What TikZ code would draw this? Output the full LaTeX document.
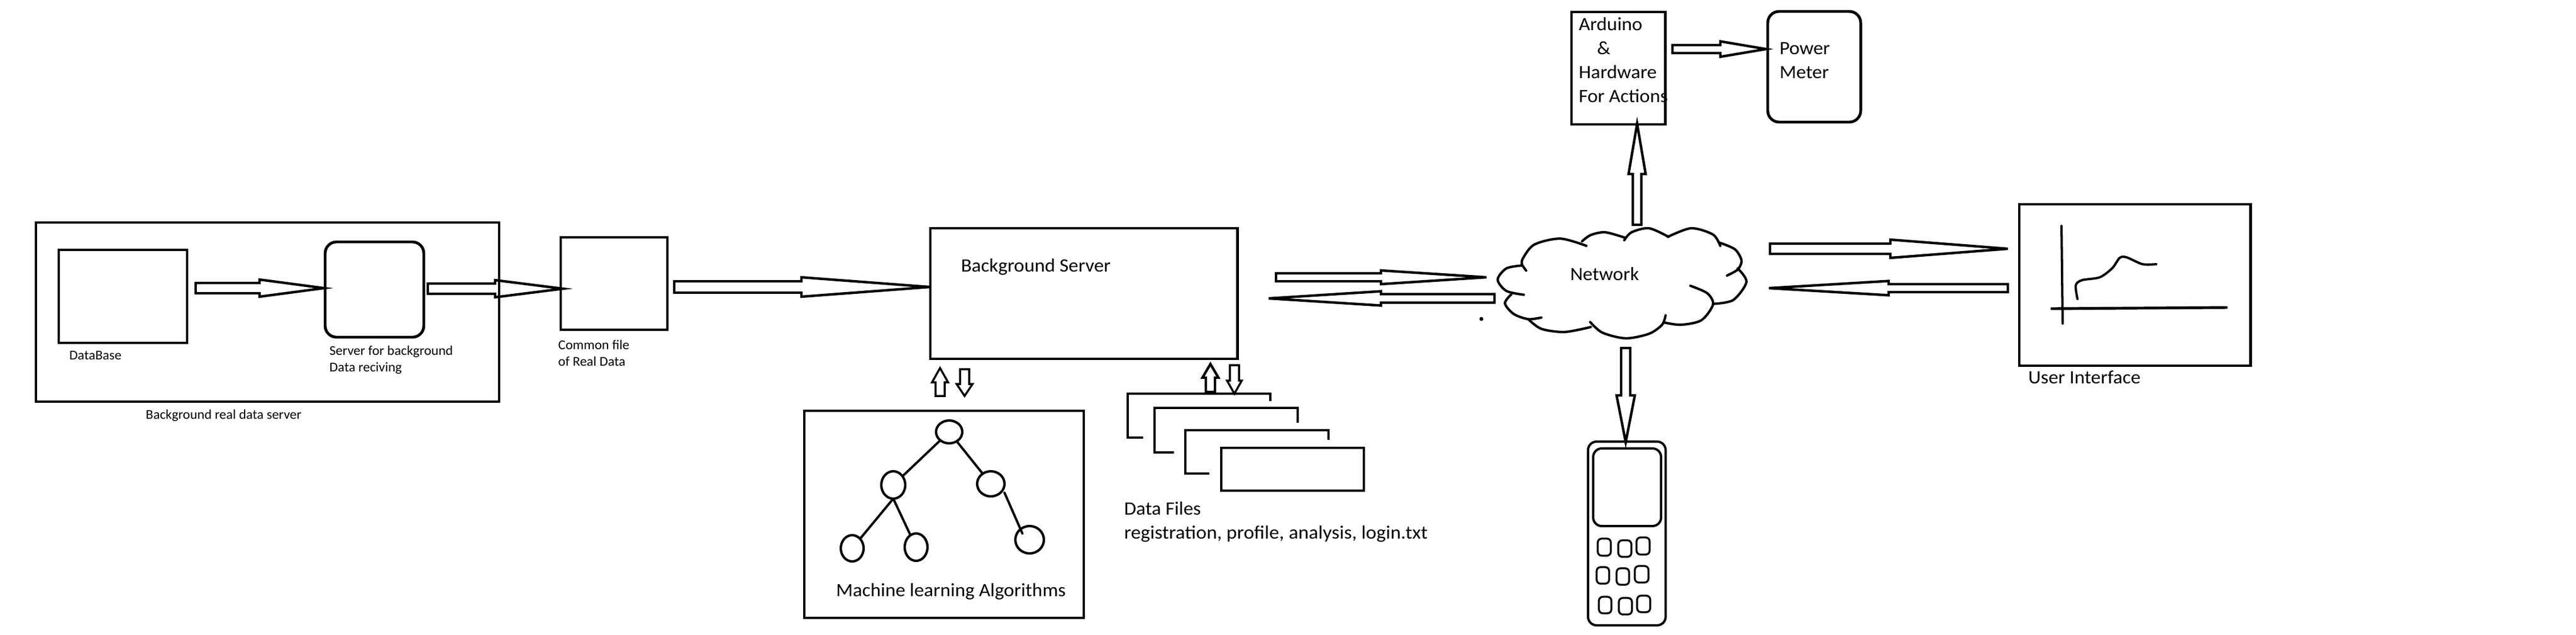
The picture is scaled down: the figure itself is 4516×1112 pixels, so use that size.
\documentclass[tikz,border=0pt]{standalone}
\usepackage{fontspec}
\setmainfont{Carlito}
\usetikzlibrary{shapes.geometric}
\tikzset{
 boxn/.style={draw,line width=1.4pt,rectangle,inner sep=0pt,outer sep=0pt},
 roundn/.style={boxn,rounded corners=2mm},
 keyn/.style={draw,line width=.95pt,rectangle,rounded corners=.7mm,inner sep=0pt,outer sep=0pt},
 phonen/.style={draw,line width=1.15pt,rectangle,rounded corners=1.5mm,inner sep=0pt,outer sep=0pt},
 treen/.style={draw,line width=1.2pt,ellipse,inner sep=0pt,outer sep=0pt},
 blockarrow/.style={draw,line width=1.25pt,line join=miter},
 thinarrow/.style={draw,line width=1pt,line join=miter},
 filepage/.style={draw,line width=1.25pt,line join=miter},
 sketchline/.style={draw,line width=1.15pt,line cap=round},
 bigtxt/.style={anchor=base west,inner sep=0pt,transform shape,xscale=1.04,font=\fontsize{9.4}{11}\selectfont},
 smalltxt/.style={anchor=base west,inner sep=0pt,transform shape,xscale=1.02,font=\fontsize{6.7}{8}\selectfont},
}
\newcommand{\pxnode}[6]{%
 \pgfmathsetmacro\pxcx{(#3+#5)/2}\pgfmathsetmacro\pxcy{(#4+#6)/2}%
 \pgfmathsetmacro\pxw{(#5-#3-2)*0.1}\pgfmathsetmacro\pxh{(#6-#4-2)*0.1}%
 \node[#1,minimum width=\pxw mm,minimum height=\pxh mm] (#2) at (\pxcx,\pxcy) {};}
\newcommand{\pxell}[5]{% name cx cy rx ry
 \pgfmathsetmacro\pxw{(#4)*0.2}\pgfmathsetmacro\pxh{(#5)*0.2}%
 \node[treen,minimum width=\pxw mm,minimum height=\pxh mm] (#1) at (#2,#3) {};}
% horizontal arrow: style, x-tail, x-base, x-tip, y-centre, half shaft, half head
\newcommand{\harrow}[7]{%
 \draw[#1] (#2,#5-#6) -- (#3,#5-#6) -- (#3,#5-#7) -- (#4,#5) -- (#3,#5+#7) -- (#3,#5+#6) -- (#2,#5+#6) -- cycle;}
% vertical arrow: style, y-tail, y-base, y-tip, x-centre, half shaft, half head
\newcommand{\varrow}[7]{%
 \draw[#1] (#5-#6,#2) -- (#5-#6,#3) -- (#5-#7,#3) -- (#5,#4) -- (#5+#7,#3) -- (#5+#6,#3) -- (#5+#6,#2) -- cycle;}
\begin{document}
\begin{tikzpicture}[x=0.1mm,y=-0.1mm]
\path[use as bounding box,fill=white] (0,0) rectangle (4516,1112);
% left group
\pxnode{boxn}{outer}{62}{389}{876}{705}
\pxnode{boxn}{database}{102}{437}{329}{602}
\pxnode{roundn}{bgserver}{569}{423}{744}{592}
\pxnode{boxn}{common}{982}{415}{1171}{579}
\harrow{blockarrow}{343}{455}{568}{505}{9}{15}
\harrow{blockarrow}{750}{868}{987}{506}{9}{15}
\harrow{blockarrow}{1182}{1405}{1630}{503}{10}{17}
\node[smalltxt] (tdb) at (121,630) {DataBase};
\node[smalltxt] (ts1) at (577,622) {Server for background};
\node[smalltxt] (ts2) at (577,651) {Data reciving};
\node[smalltxt] (tc1) at (978,612) {Common file};
\node[smalltxt] (tc2) at (978,641) {of Real Data};
\node[smalltxt] (tbg) at (255,734) {Background real data server};
% background server
\pxnode{boxn}{server}{1630}{399}{2170}{630}
\node[bigtxt] (tsrv) at (1684,476) {Background Server};
\harrow{blockarrow}{2237}{2421}{2606}{486}{7}{12}
\harrow{blockarrow}{2620}{2421}{2224}{523}{7.5}{12.5}
\fill (2597,559) circle (3.5);
% ML
\varrow{thinarrow}{694}{670}{645}{1648}{8}{14}
\varrow{thinarrow}{647}{673}{694}{1691}{8}{14}
\pxnode{boxn}{ml}{1409}{719}{1901}{1084}
\pxell{root}{1664}{757}{23}{20}
\pxell{nl}{1566}{850}{21}{24}
\pxell{nr}{1737}{848}{24}{22}
\pxell{ll}{1494}{961}{20}{23}
\pxell{lr}{1606}{959}{20}{24}
\pxell{rr}{1805}{946}{25}{24}
\draw[sketchline] (root) -- (nl);
\draw[sketchline] (root) -- (nr);
\draw[sketchline] (nl.south) -- (ll);
\draw[sketchline] (nl.south) -- (lr);
\draw[sketchline] ([xshift=0.7mm]nr.south east) -- ([xshift=0.5mm,yshift=-0.6mm]rr.north west);
\node[bigtxt] (tml) at (1465,1045) {Machine learning Algorithms};
% data files
\varrow{blockarrow}{687}{662}{638}{2122}{8}{14}
\varrow{thinarrow}{640}{667}{690}{2164}{8}{13}
\draw[filepage] (2227,703) -- (2227,690) -- (1977,690) -- (1977,767) -- (2004,767);
\draw[filepage] (2275,741) -- (2275,715) -- (2024,715) -- (2024,793) -- (2058,793);
\draw[filepage] (2329,771) -- (2329,754) -- (2078,754) -- (2078,830) -- (2120,830);
\pxnode{boxn}{file}{2140}{784}{2392}{861}
\node[bigtxt] (tf1) at (1970,902) {Data Files};
\node[bigtxt,xscale=1.018] (tf2) at (1970,944) {registration, profile, analysis, login.txt};
% Arduino and meter
\pxnode{boxn}{arduino}{2754}{20}{2920}{219}
\pxnode{roundn}{meter}{3098}{19}{3263}{215}
\node[bigtxt] (ta1) at (2767,53) {Arduino};
\node[bigtxt] (ta2) at (2799,95) {\&};
\node[bigtxt] (ta3) at (2767,137) {Hardware};
\node[bigtxt] (ta4) at (2767,179) {For Actions};
\node[bigtxt] (tp1) at (3119,95) {Power};
\node[bigtxt] (tp2) at (3119,137) {Meter};
\harrow{blockarrow}{2932}{3016}{3096}{86}{7}{13.5}
\varrow{blockarrow}{394}{305}{217}{2870}{7.5}{15}
% cloud
\begin{scope}[shift={(2600,0)},xscale=0.5102,yscale=0.3953,line width=1.2pt,line cap=round]
\draw (148,1200) -- (135,1177);
\draw plot[smooth] coordinates {(135,1177)(80,1190)(50,1240)(80,1290)(140,1307)};
\draw plot[smooth] coordinates {(97,1305)(75,1345)(105,1392)(155,1415)(200,1408)};
\draw plot[smooth] coordinates {(155,1415)(200,1458)(280,1472)(370,1450)};
\draw plot[smooth] coordinates {(368,1428)(410,1475)(490,1500)(570,1480)(615,1440)(627,1398)};
\draw plot[smooth] coordinates {(622,1430)(680,1440)(750,1420)(790,1350)(770,1300)(712,1267)};
\draw plot[smooth] coordinates {(795,1347)(860,1330)(905,1250)(875,1190)};
\draw plot[smooth] coordinates {(838,1222)(875,1195)(888,1155)(865,1105)(810,1075)};
\draw plot[smooth] coordinates {(815,1090)(790,1040)(715,1012)(635,1050)};
\draw plot[smooth] coordinates {(637,1050)(570,1012)(510,1030)(485,1065)};
\draw plot[smooth] coordinates {(490,1055)(420,1030)(370,1042)(340,1070)};
\draw plot[smooth] coordinates {(355,1090)(265,1058)(175,1085)(135,1150)(135,1177)};
\end{scope}
\node[bigtxt] (tnet) at (2752,491) {Network};
% phone
\varrow{blockarrow}{610}{693}{775}{2850}{8}{16}
\pxnode{phonen}{phone}{2783}{773}{2921}{1097}
\pxnode{phonen}{screen}{2792}{785}{2913}{923}
\pxnode{keyn}{k1}{2800}{943}{2825}{975}
\pxnode{keyn}{k2}{2836}{946}{2861}{977}
\pxnode{keyn}{k3}{2868}{941}{2893}{973}
\pxnode{keyn}{k4}{2798}{993}{2822}{1024}
\pxnode{keyn}{k5}{2833}{995}{2857}{1026}
\pxnode{keyn}{k6}{2865}{991}{2891}{1022}
\pxnode{keyn}{k7}{2802}{1045}{2826}{1076}
\pxnode{keyn}{k8}{2837}{1047}{2862}{1078}
\pxnode{keyn}{k9}{2869}{1043}{2894}{1074}
% user interface
\harrow{blockarrow}{3103}{3314}{3520}{436}{9}{16}
\harrow{blockarrow}{3520}{3311}{3101}{505}{7}{12.5}
\pxnode{boxn}{ui}{3539}{357}{3946}{642}
\draw[sketchline] (3614,396) -- (3616,567);
\draw[sketchline,line width=1.4pt] (3597,541) -- (3903,539);
\draw[sketchline] plot[smooth] coordinates {(3642,524)(3639,500)(3650,491)(3681,486)(3703,470)(3716,452)(3728,451)(3756,463)(3780,463)};
\node[bigtxt] (tui) at (3555,672) {User Interface};
\end{tikzpicture}
\end{document}
